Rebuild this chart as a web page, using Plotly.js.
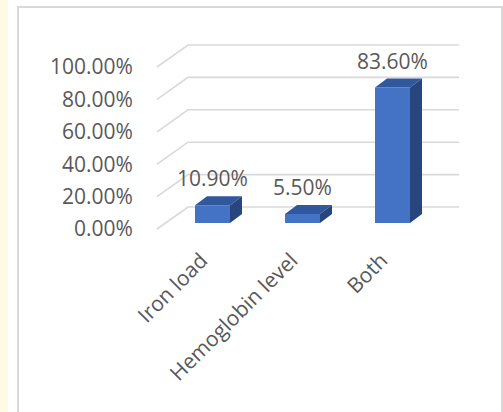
<!DOCTYPE html>
<html>
<head>
<meta charset="utf-8">
<script src="https://cdn.plot.ly/plotly-3.0.1.min.js"></script>
<style>
  html, body { margin:0; padding:0; background:#ffffff; }
  #cream { position:absolute; left:0; top:0; width:8px; height:412px; background:#FFFAE6; }
  #frame { position:absolute; left:17px; top:6px; width:482px; height:420px; border:2px solid #D9D9D9; }
  #plot { position:absolute; left:0; top:0; width:503px; height:412px; }
</style>
</head>
<body>
<div id="cream"></div>
<div id="frame"></div>
<div id="plot"></div>
<script>
// ---- data ----
const categories = ['Iron load', 'Hemoglobin level', 'Both'];
const values = [10.9, 5.5, 83.6];
const yTicks = [0, 20, 40, 60, 80, 100];

// ---- geometry (pseudo-3D projection, in axis units) ----
const xRange = [-0.6944, 2.8611];   // 90 px per unit
const yRange = [-12.35, 112.96];    // 1.62 px per unit
const PX_X = 90, PX_Y = 1.62;
const barW = 35 / PX_X;
const dxBar = 12 / PX_X, dyBar = 9 / PX_Y;
const dxF = -8.5 / PX_X, dyF = -6 / PX_Y;   // front plane offset
const dxB = 22.5 / PX_X, dyB = 16 / PX_Y;   // back wall offset
const wallL = -0.522, wallR = 2.739;

const FRONT = '#4472C4', TOP = '#31589D', SIDE = '#27467D';
const FONT = { family: 'Open Sans, sans-serif', size: 21, color: '#595959' };

// gridlines (floor diagonal + back wall)
const shapes = yTicks.map(v => ({
  type: 'path', xref: 'x', yref: 'y', layer: 'below',
  path: `M ${wallL + dxF} ${v + dyF} L ${wallL + dxB} ${v + dyB} L ${wallR} ${v + dyB}`,
  line: { color: '#D9D9D9', width: 1.6 }
}));

const traces = [];
traces.push({
  type: 'bar', x: categories.map((c, i) => i), y: values, width: barW,
  marker: { color: FRONT, line: { width: 0 } }, hoverinfo: 'skip', showlegend: false
});
values.forEach((v, i) => {
  const x0 = i - barW / 2, x1 = i + barW / 2;
  traces.push({
    type: 'scatter', mode: 'lines', fill: 'toself', fillcolor: TOP,
    line: { width: 0, color: TOP }, hoverinfo: 'skip', showlegend: false,
    x: [x0, x1, x1 + dxBar, x0 + dxBar, x0],
    y: [v, v, v + dyBar, v + dyBar, v]
  });
  traces.push({
    type: 'scatter', mode: 'lines', fill: 'toself', fillcolor: SIDE,
    line: { width: 0, color: SIDE }, hoverinfo: 'skip', showlegend: false,
    x: [x1, x1, x1 + dxBar, x1 + dxBar, x1],
    y: [0, v, v + dyBar, dyBar, 0]
  });
});

const annotations = values.map((v, i) => ({
  x: i, y: v + dyBar, xref: 'x', yref: 'y', yshift: 18,
  text: v.toFixed(2) + '%', showarrow: false, font: FONT,
  xanchor: 'center', yanchor: 'middle'
}));

const layout = {
  width: 503, height: 412,
  margin: { l: 150, r: 33, t: 40, b: 169 },
  paper_bgcolor: 'rgba(0,0,0,0)', plot_bgcolor: 'rgba(0,0,0,0)',
  showlegend: false,
  xaxis: {
    range: xRange, tickvals: [0, 1, 2], ticktext: categories, tickangle: -45,
    ticklabelshift: -11,
    showgrid: false, zeroline: false, showline: false, ticks: '', tickfont: FONT,
    fixedrange: true
  },
  yaxis: {
    range: yRange, tickvals: yTicks.map(v => v + dyF),
    ticktext: yTicks.map(v => v.toFixed(2) + '%'),
    showgrid: false, zeroline: false, showline: false,
    ticks: 'outside', ticklen: 12, tickcolor: 'rgba(0,0,0,0)', tickfont: FONT,
    fixedrange: true
  },
  shapes: shapes,
  annotations: annotations
};

Plotly.newPlot('plot', traces, layout, { staticPlot: true });
</script>
</body>
</html>
